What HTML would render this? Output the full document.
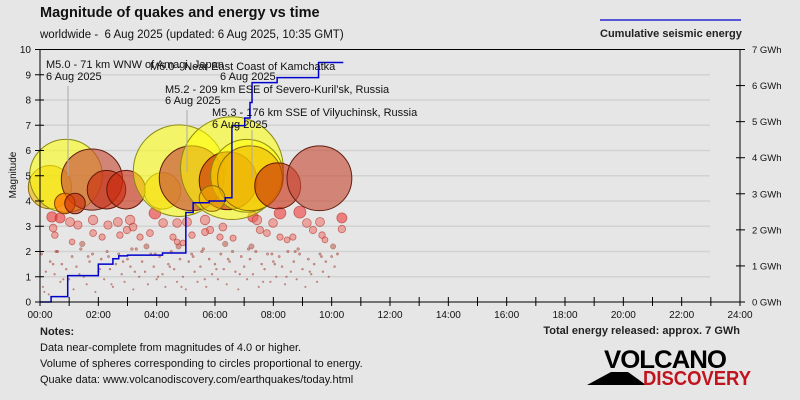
<!DOCTYPE html>
<html><head><meta charset="utf-8"><style>
body{margin:0;background:#e6e6e6;}
svg{display:block;font-family:"Liberation Sans","DejaVu Sans",sans-serif;}
</style></head><body>
<svg id="chart" width="800" height="400" viewBox="0 0 800 400">
<rect x="0" y="0" width="800" height="400" fill="#e6e6e6"/>
<text x="40" y="17" font-size="14.5" font-weight="bold" fill="#111">Magnitude of quakes and energy vs time</text>
<text x="40" y="38" font-size="11.5" fill="#111">worldwide -&#160; 6 Aug 2025 (updated: 6 Aug 2025, 10:35 GMT)</text>
<line x1="600" y1="20" x2="741" y2="20" stroke="#0000cc" stroke-width="1.2"/>
<text x="600" y="37" font-size="11" font-weight="bold" fill="#222">Cumulative seismic energy</text>
<g id="grid"></g>
<g id="marks"></g>
<g id="energy"></g>
<g id="labels">
<line x1="68" y1="86" x2="68" y2="176" stroke="#aaa" stroke-width="1"/>
<line x1="187" y1="110" x2="187" y2="172" stroke="#aaa" stroke-width="1"/>
<line x1="252" y1="130" x2="252" y2="178" stroke="#aaa" stroke-width="1"/>
<text x="46" y="68" font-size="11" fill="#111">M5.0 - 71 km WNW of Amagi, Japan</text>
<text x="46" y="80" font-size="11" fill="#111">6 Aug 2025</text>
<text x="150" y="70" font-size="11" fill="#111">M6.0 - Near East Coast of Kamchatka</text>
<text x="220" y="80" font-size="11" fill="#111">6 Aug 2025</text>
<text x="165" y="93" font-size="11" fill="#111">M5.2 - 209 km ESE of Severo-Kuril’sk, Russia</text>
<text x="165" y="104" font-size="11" fill="#111">6 Aug 2025</text>
<text x="212" y="116" font-size="11" fill="#111">M5.3 - 176 km SSE of Vilyuchinsk, Russia</text>
<text x="212" y="128" font-size="11" fill="#111">6 Aug 2025</text>
</g>
<g id="axes"></g>
<text transform="translate(16,175) rotate(-90)" text-anchor="middle" font-size="10" fill="#111">Magnitude</text>
<text x="40" y="335" font-size="11" font-weight="bold" fill="#222">Notes:</text>
<text x="40" y="351" font-size="11" fill="#111">Data near-complete from magnitudes of 4.0 or higher.</text>
<text x="40" y="367" font-size="11" fill="#111">Volume of spheres corresponding to circles proportional to energy.</text>
<text x="40" y="383" font-size="11" fill="#111">Quake data: www.volcanodiscovery.com/earthquakes/today.html</text>
<text x="740" y="334" text-anchor="end" font-size="11" font-weight="bold" fill="#222">Total energy released: approx. 7 GWh</text>
<g>
<polygon points="587,385 611,372 628,372 646,385" fill="#000"/>
<text x="604" y="368" font-size="25" font-weight="bold" fill="#000" textLength="122" lengthAdjust="spacingAndGlyphs" letter-spacing="-1">VOLCANO</text>
<text x="643" y="385" font-size="20" font-weight="bold" fill="#c0141e" textLength="108" lengthAdjust="spacingAndGlyphs">DISCOVERY</text>
</g>
</svg>
<script>
const xTicks=["00:00","02:00","04:00","06:00","08:00","10:00","12:00","14:00","16:00","18:00","20:00","22:00","24:00"];
const yTicks=[0,1,2,3,4,5,6,7,8,9,10];
const eTicks=["0 GWh","1 GWh","2 GWh","3 GWh","4 GWh","5 GWh","6 GWh","7 GWh"];
const bigT=[0.34,0.89,1.78,2.28,2.95,0.85,1.2,4.2,4.77,5.2,6.58,6.45,7.1,7.2,5.9,8.15,9.58];
const bigM=[4.55,5.0,4.85,4.45,4.45,3.9,3.9,4.4,5.2,4.9,5.3,4.8,5.0,4.9,4.1,4.6,4.9];
const bigC=["gold","yellow","brownL","brown","brown","orange","brown","gold","yellow","brownL","yellow","brown","yellow","gold","gold","brown","brownL"];
const medT=[0.41,0.69,1.03,1.30,1.82,2.33,2.67,3.09,3.19,3.94,4.22,4.70,5.04,5.66,5.83,6.27,7.30,7.44,7.99,8.23,8.91,9.15,9.60,10.35,10.35,0.45,0.51,1.10,1.82,2.13,2.74,2.98,3.43,3.77,4.56,4.70,4.90,5.21,5.66,6.17,6.62,7.54,7.78,8.23,8.47,8.67,9.36,9.67,9.77];
const medM=[3.37,3.33,3.17,3.05,3.25,3.05,3.17,3.25,2.97,3.52,3.13,3.13,3.17,3.25,2.85,2.97,3.37,3.25,3.13,3.52,3.56,3.13,3.17,3.33,2.89,2.93,2.65,2.38,2.73,2.57,2.65,2.85,2.57,2.73,2.57,2.38,2.34,2.65,2.77,2.57,2.53,2.85,2.73,2.57,2.46,2.57,2.85,2.65,2.46];
const dotT=[0.05,0.1,0.2,0.3,0.35,0.5,0.6,0.7,0.75,0.9,1.0,1.1,1.15,1.25,1.4,1.5,1.6,1.7,1.8,1.9,2.0,2.1,2.2,2.3,2.4,2.5,2.6,2.7,2.8,2.9,3.0,3.1,3.2,3.3,3.4,3.5,3.6,3.7,3.8,3.9,4.0,4.1,4.2,4.3,4.4,4.5,4.6,4.7,4.8,4.9,5.0,5.1,5.2,5.3,5.4,5.5,5.6,5.7,5.8,5.9,6.0,6.1,6.2,6.3,6.4,6.5,6.6,6.7,6.8,6.9,7.0,7.1,7.2,7.3,7.4,7.5,7.6,7.7,7.8,7.9,8.0,8.1,8.2,8.3,8.4,8.5,8.6,8.7,8.8,8.9,9.0,9.1,9.2,9.3,9.4,9.5,9.6,9.7,9.8,9.9,10.0,10.1,10.2,0.15,0.45,0.8,1.35,1.65,2.05,2.45,2.85,3.25,3.65,4.05,4.45,4.85,5.25,5.65,6.05,6.45,6.85,7.25,7.65,8.05,8.45,8.85,9.25,9.65,10.05,0.55,1.45,2.35,3.15,3.95,4.75,5.55,6.35,7.15,7.95,8.75,9.55];
const dotM=[1.9,0.6,1.2,0.3,1.6,1.1,2.0,0.8,1.5,1.3,0.9,1.8,0.5,1.4,2.1,1.0,0.7,1.6,1.9,0.4,1.2,1.7,0.9,2.0,1.3,0.6,1.5,1.9,1.1,0.8,1.7,1.4,0.5,2.1,1.0,1.6,1.2,0.7,1.9,1.4,0.9,1.8,1.1,0.6,1.5,2.0,1.3,0.8,1.7,1.0,0.5,1.6,1.9,1.2,0.8,1.4,2.1,0.6,1.7,1.1,1.5,0.9,1.9,1.3,0.7,1.6,2.0,1.2,0.5,1.8,1.4,0.9,1.7,1.1,2.0,0.6,1.5,1.3,1.9,0.8,1.6,1.0,1.8,1.4,0.7,2.0,1.2,1.6,0.9,1.9,1.3,0.6,1.7,1.1,1.5,0.8,1.9,1.2,1.6,1.0,1.8,1.4,1.9,0.4,1.5,0.9,1.1,1.8,1.3,0.7,1.6,1.2,2.2,1.0,1.4,0.6,1.8,0.9,1.3,1.7,1.1,2.2,0.8,1.5,1.0,2.1,1.2,1.8,2.2,2.0,2.3,1.8,2.1,1.9,2.2,2.0,2.3,2.1,1.9,2.0];
const energyT=[0,0.38,0.95,2.0,2.5,2.7,3.0,4.2,5.0,5.25,5.8,6.35,6.58,7.02,7.2,7.27,8.13,9.55,10.4];
const energyE=[0,0.15,0.73,1.05,1.2,1.28,1.3,1.36,2.48,2.75,2.8,2.89,4.89,5.1,5.53,6.08,6.22,6.64,6.64];

const NS="http://www.w3.org/2000/svg";
const X0=40,X1=740,Y0=302,YT=49.5;
const xs=h=>X0+(X1-X0)*h/24;
const ym=m=>Y0-(Y0-YT)*m/10;
const ye=e=>Y0-(Y0-YT)*e/7;
function mk(tag,attrs,parent){const el=document.createElementNS(NS,tag);for(const k in attrs)el.setAttribute(k,attrs[k]);parent.appendChild(el);return el;}
const grid=document.getElementById('grid'),marks=document.getElementById('marks'),axes=document.getElementById('axes'),energy=document.getElementById('energy');
yTicks.forEach((v,i)=>{if(v>0&&v<10){const l=mk('line',{x1:X0,x2:X1-30,y1:ym(v),y2:ym(v),stroke:'#d2d2d2','stroke-width':1.5},grid);

}});
const rad=m=>m>=3.8?0.115*Math.pow(10,0.5*m)+2:(m>=2.2?0.07*Math.pow(10,0.5*m)+1.8:0.06*Math.pow(10,0.5*m)+0.7);
dotT.forEach((t,i)=>{const c=mk('circle',{cx:xs(t),cy:ym(dotM[i]),r:rad(dotM[i]),fill:'rgba(170,60,40,0.45)',stroke:'rgba(140,40,30,0.5)','stroke-width':0.5},marks);

});
medT.forEach((t,i)=>{const m=medM[i];const c=mk('circle',{cx:xs(t),cy:ym(m),r:rad(m),fill:m>3.3?'rgba(240,40,40,0.55)':'rgba(240,100,90,0.5)',stroke:'rgba(170,40,30,0.6)','stroke-width':0.8},marks);

});
const cols={yellow:['rgba(255,255,0,0.55)','#8a8a10'],gold:['rgba(240,180,0,0.6)','#8a6a10'],brown:['rgba(200,40,10,0.6)','#601808'],brownL:['rgba(200,80,60,0.65)','#602010'],orange:['rgba(255,110,0,0.7)','#804000']};
bigT.forEach((t,i)=>{const m=bigM[i],cc=cols[bigC[i]];const c=mk('circle',{cx:xs(t),cy:ym(m),r:rad(m)-2,fill:cc[0],stroke:cc[1],'stroke-width':1},marks);

});
let d='';energyT.forEach((t,i)=>{const x=xs(t),y=ye(energyE[i]);if(i===0)d+='M'+x+','+y;else d+='L'+x+','+ye(energyE[i-1])+'L'+x+','+y;});
const p=mk('path',{d:d,fill:'none',stroke:'#0000cc','stroke-width':1.5},energy);


mk('line',{x1:X0,x2:X0,y1:YT,y2:Y0,stroke:'#000','stroke-width':1},axes);
mk('line',{x1:X0,x2:X1,y1:Y0,y2:Y0,stroke:'#000','stroke-width':1},axes);
mk('line',{x1:X1,x2:X1,y1:YT,y2:Y0,stroke:'#000','stroke-width':1},axes);
mk('line',{x1:X0,x2:X1,y1:YT,y2:YT,stroke:'#000','stroke-width':1},axes);
yTicks.forEach(v=>{mk('line',{x1:X0-5,x2:X0+4,y1:ym(v),y2:ym(v),stroke:'#000'},axes);
const t=mk('text',{x:X0-9,y:ym(v)+3.5,'text-anchor':'end','font-size':10,fill:'#111'},axes);t.textContent=v;

});
eTicks.forEach((s,i)=>{mk('line',{x1:X1-4,x2:X1+5,y1:ye(i),y2:ye(i),stroke:'#000'},axes);
const t=mk('text',{x:X1+12,y:ye(i)+3.5,'font-size':9.5,fill:'#111'},axes);t.textContent=s;

});
for(let h=0;h<=24;h++){mk('line',{x1:xs(h),x2:xs(h),y1:Y0-5,y2:Y0+4,stroke:'#000'},axes);}
xTicks.forEach((s,i)=>{const t=mk('text',{x:xs(i*2),y:Y0+16,'text-anchor':'middle','font-size':10,fill:'#111'},axes);t.textContent=s;

});
</script>
</body></html>
